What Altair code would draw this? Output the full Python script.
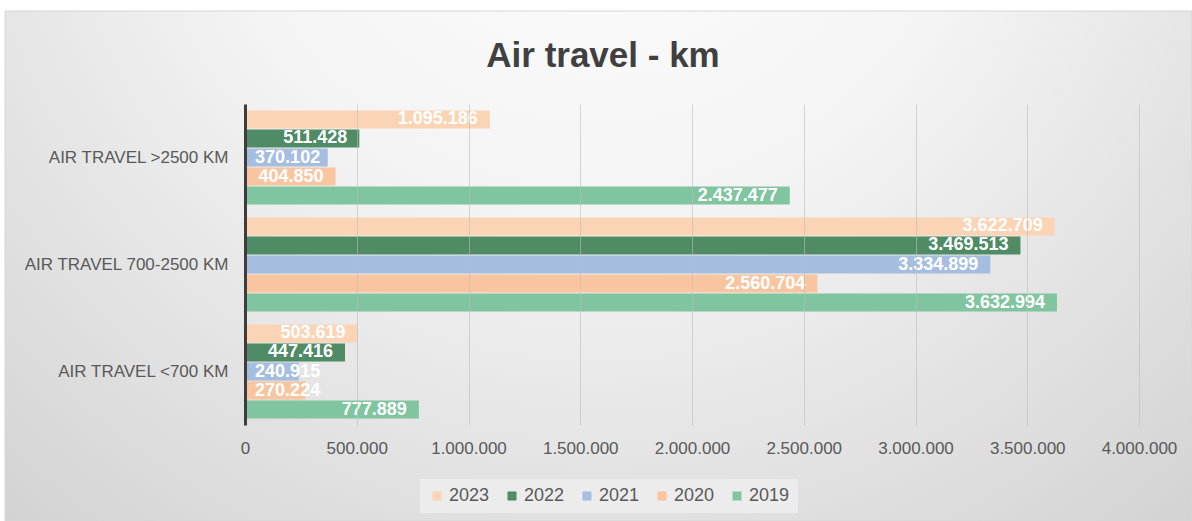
import altair as alt
import pandas as pd

categories = ["AIR TRAVEL >2500 KM", "AIR TRAVEL 700-2500 KM", "AIR TRAVEL <700 KM"]
years = ["2023", "2022", "2021", "2020", "2019"]
v2023 = [1095186, 3622709, 503619]
v2022 = [511428, 3469513, 447416]
v2021 = [370102, 3334899, 240915]
v2020 = [404850, 2560704, 270224]
v2019 = [2437477, 3632994, 777889]
colors = ["#fbd4b5", "#4f8b65", "#a5bee0", "#f8c5a0", "#80c59f"]
tick_values = [0, 500000, 1000000, 1500000, 2000000, 2500000, 3000000, 3500000, 4000000]
title_text = ["Air travel - km"]

series = [v2023, v2022, v2021, v2020, v2019]
rows = []
for i, c in enumerate(categories):
    for y, vals in zip(years, series):
        rows.append({"category": c, "year": y, "value": vals[i]})
df = pd.DataFrame(rows)

FONT = "Liberation Sans"

x_axis = alt.Axis(
    title=None, values=tick_values, format=",d", grid=True, gridColor="#bdbdbd",
    gridOpacity=0.6, gridWidth=1, domain=False, ticks=False, labelPadding=15,
    labelFontSize=17, labelColor="#595959", labelFont=FONT, zindex=1,
    labelFlush=False, labelOverlap=False,
)
y_axis = alt.Axis(
    title=None, domain=True, domainColor="#3d3d3d", domainWidth=3, ticks=False,
    labelPadding=17, labelFontSize=17, labelColor="#595959", labelFont=FONT,
    grid=False, zindex=1, labelLimit=400,
)

x_enc = dict(scale=alt.Scale(domain=[0, 4000000], nice=False, zero=True), axis=x_axis)
y_enc = alt.Y("category:N", sort=categories,
              scale=alt.Scale(paddingInner=0.12, paddingOuter=0.06), axis=y_axis)
yoff_enc = alt.YOffset("year:N", sort=years, scale=alt.Scale(paddingInner=0.05))

bg = alt.Chart(pd.DataFrame({"k": [0]})).mark_rect(
    fill=alt.RadialGradient(
        gradient="radial",
        stops=[
            alt.GradientStop(color="#ffffff", offset=0),
            alt.GradientStop(color="#f4f4f4", offset=0.35),
            alt.GradientStop(color="#c6c6c6", offset=1),
        ],
        x1=0.5, y1=0.12, x2=0.5, y2=0.12, r1=0, r2=0.95,
    ),
    stroke="#d6d6d6", strokeWidth=1,
).encode(x=alt.value(-240), x2=alt.value(947), y=alt.value(-93), y2=alt.value(417))

title = alt.Chart(pd.DataFrame({"t": title_text})).mark_text(
    fontSize=35, fontWeight="bold", color="#404040", font=FONT,
    align="center", baseline="alphabetic",
).encode(text="t:N", x=alt.value(358), y=alt.value(-37))

base = alt.Chart(df)

bars = base.mark_bar(opacity=1).encode(
    x=alt.X("value:Q", **x_enc),
    y=y_enc,
    yOffset=yoff_enc,
    color=alt.Color(
        "year:N", sort=years,
        scale=alt.Scale(domain=years, range=colors),
        legend=alt.Legend(
            orient="none", legendX=175, legendY=375, direction="horizontal", columns=5,
            title=None, symbolType="square", symbolSize=81, symbolStrokeWidth=0,
            symbolOpacity=1, labelFontSize=18, labelColor="#595959", labelFont=FONT,
            columnPadding=13, labelOffset=3, padding=8, fillColor="#ececec",
        ),
    ),
)

texts = base.transform_calculate(lx="max(datum.value, 390000)").mark_text(
    align="right", baseline="middle", dx=-12, color="white", fontWeight="bold",
    fontSize=18, font=FONT,
).encode(
    x=alt.X("lx:Q", **x_enc),
    y=y_enc,
    yOffset=yoff_enc,
    text=alt.Text("value:Q", format=",d"),
)

chart = alt.layer(bg, title, bars, texts).properties(
    width=894, height=321,
    autosize=alt.AutoSizeParams(type="none"),
    padding={"left": 245, "top": 104, "right": 53, "bottom": 96},
    background="white",
).configure(
    locale=alt.Locale(number=alt.NumberLocale(decimal=",", thousands=".", grouping=[3], currency=["", "€"]))
).configure_view(stroke=None)

chart.save("out.html", embed_options={"renderer": "svg", "actions": False})
